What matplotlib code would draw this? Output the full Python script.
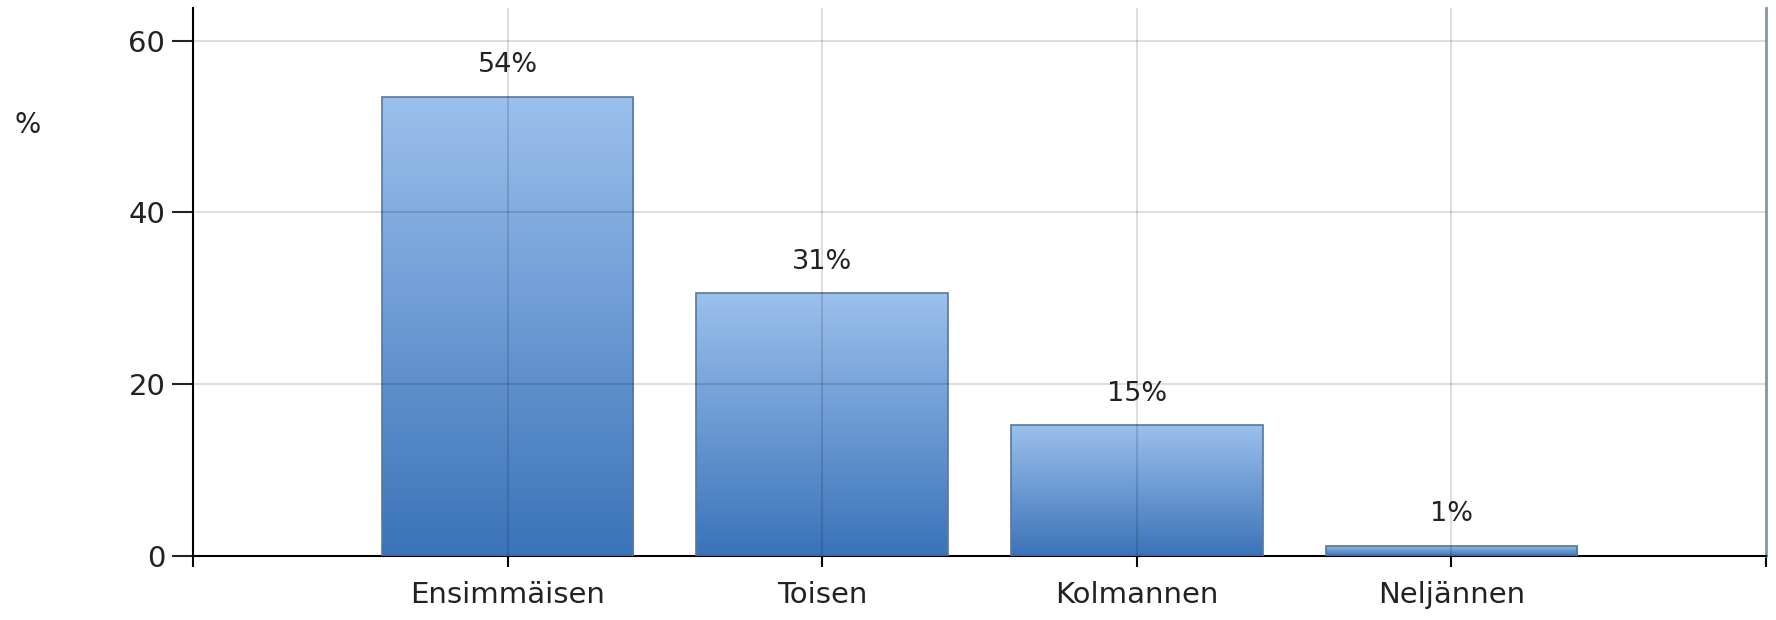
import matplotlib.pyplot as plt
import numpy as np
from matplotlib.colors import LinearSegmentedColormap

categories = ["Ensimmäisen", "Toisen", "Kolmannen", "Neljännen"]
values = [53.5, 30.6, 15.2, 1.2]
labels = ["54%", "31%", "15%", "1%"]

fig = plt.figure(figsize=(17.76, 6.2), dpi=100)
ax = fig.add_axes([0.1087, 0.1032, 0.8857, 0.8838])

cmap = LinearSegmentedColormap.from_list("bluegrad", ["#3b73b9", "#9bc0ec"])
grad = np.linspace(0, 1, 256).reshape(-1, 1)

x = np.arange(len(categories))
bars = ax.bar(x, values, width=0.8, color="none", edgecolor="#5877a0",
              linewidth=1.2, zorder=3)
for b in bars:
    x0, y0 = b.get_x(), b.get_y()
    im = ax.imshow(grad, extent=[x0, x0 + b.get_width(), y0, y0 + b.get_height()],
                   origin="lower", aspect="auto", cmap=cmap, zorder=2)
    im.set_clip_path(b)

for xi, v, lab in zip(x, values, labels):
    ax.annotate(lab, (xi, v), xytext=(0, 22.5), textcoords="offset points",
                ha="center", va="center", fontsize=19.5, color="#222222")

ax.set_xlim(-1, 4)
ax.set_ylim(0, 63.8)
ax.set_xticks([-1, 0, 1, 2, 3, 4])
ax.set_xticklabels([""] + categories + [""], fontsize=21, color="#222222")
ax.set_yticks([0, 20, 40, 60])
ax.tick_params(axis="y", labelsize=21, length=15, width=1.5, pad=5, colors="#222222")
ax.tick_params(axis="x", length=8, width=1.5, pad=10)

for gx in range(4):
    ax.axvline(gx, color="black", alpha=0.13, lw=1.5, zorder=4)
for gy in [20, 40, 60]:
    ax.axhline(gy, color="black", alpha=0.13, lw=1.5, zorder=4)

ax.spines["top"].set_visible(False)
ax.spines["left"].set_linewidth(1.5)
ax.spines["bottom"].set_linewidth(1.5)
ax.spines["right"].set_color("#8596a8")
ax.spines["right"].set_linewidth(2)

fig.text(28 / 1776, 1 - 125 / 620, "%", fontsize=20, ha="center", va="center",
         color="#222222")

fig.savefig("out.png", dpi=100)
